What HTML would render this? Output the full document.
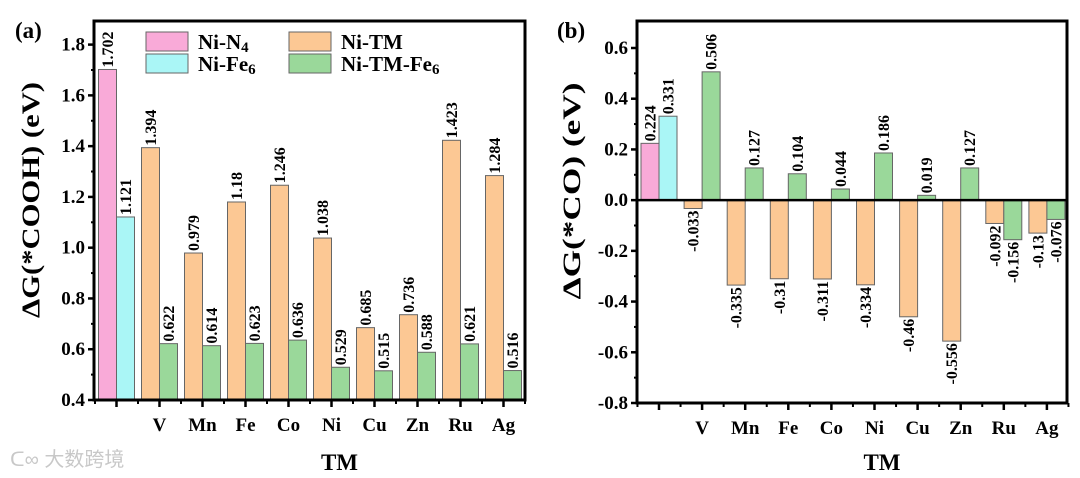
<!DOCTYPE html>
<html><head><meta charset="utf-8"><style>
html,body{margin:0;padding:0;background:#fff;}
svg{display:block;font-family:"Liberation Serif",serif;font-weight:bold;}
</style></head><body>
<svg id="chart" width="1080" height="478" viewBox="0 0 1080 478"></svg>
<script>
const categories = ["", "V", "Mn", "Fe", "Co", "Ni", "Cu", "Zn", "Ru", "Ag"];
const cooh_NiTM = [null, 1.394, 0.979, 1.18, 1.246, 1.038, 0.685, 0.736, 1.423, 1.284];
const cooh_NiTMFe6 = [null, 0.622, 0.614, 0.623, 0.636, 0.529, 0.515, 0.588, 0.621, 0.516];
const cooh_NiN4 = [1.702];
const cooh_NiFe6 = [1.121];
const co_NiTM = [null, -0.033, -0.335, -0.31, -0.311, -0.334, -0.46, -0.556, -0.092, -0.13];
const co_NiTMFe6 = [null, 0.506, 0.127, 0.104, 0.044, 0.186, 0.019, 0.127, -0.156, -0.076];
const co_NiN4 = [0.224];
const co_NiFe6 = [0.331];
const ticksA = [0.4, 0.6, 0.8, 1.0, 1.2, 1.4, 1.6, 1.8];
const ticksB = [-0.8, -0.6, -0.4, -0.2, 0.0, 0.2, 0.4, 0.6];

const NS = "http://www.w3.org/2000/svg";
const svg = document.getElementById("chart");
const COL = {pink:"#f9aad8", cyan:"#aaf6f6", orange:"#fcc894", green:"#9ad89a"};
function mk(tag, attrs, parent){ const e=document.createElementNS(NS,tag); for(const k in attrs) e.setAttribute(k,attrs[k]); (parent||svg).appendChild(e); return e; }
function fmt(v){ return String(v); }

function panel(cfg){
  const g = mk("g", {});
  
  
  const y = v => cfg.y0 + (v - cfg.vmin) / (cfg.vmax - cfg.vmin) * (cfg.y1 - cfg.y0);
  const x = i => cfg.xFirst + i * cfg.step;
  const bw = 18;
  function bar(i, off, v, color, nm){
    const base = cfg.base, yb = y(base), yv = y(v);
    const r = mk("rect", {x: x(i)+off, y: Math.min(yb,yv), width: bw, height: Math.abs(yb-yv), fill: color, stroke:"#666", "stroke-width":1}, g);
    
    
    const cx = x(i)+off+bw/2+5.5;
    let t;
    if (v >= base) {
      t = mk("text", {x:0, y:0, transform:`translate(${cx},${yv-2}) rotate(-90)`, "font-size":16, "text-anchor":"start"}, g);
    } else {
      t = mk("text", {x:0, y:0, transform:`translate(${cx},${yv+2}) rotate(-90)`, "font-size":16, "text-anchor":"end"}, g);
    }
    t.textContent = fmt(v);
    
    
  }
  bar(0, -bw, cfg.n4[0], COL.pink, "bar-ni-n4");
  bar(0, 0, cfg.fe6[0], COL.cyan, "bar-ni-fe6");
  for (let i=1;i<categories.length;i++){
    bar(i, -bw, cfg.tm[i], COL.orange, "bar-ni-tm-"+categories[i].toLowerCase());
    bar(i, 0, cfg.tmfe[i], COL.green, "bar-ni-tm-fe6-"+categories[i].toLowerCase());
  }
  if (cfg.base !== cfg.vmin) {
    const zl = mk("line", {x1:cfg.xl, x2:cfg.xr, y1:y(0), y2:y(0), stroke:"#000", "stroke-width":2.5}, g);
     
  }
  const box = mk("rect", {x:cfg.xl, y:cfg.top, width:cfg.xr-cfg.xl, height:cfg.y0-cfg.top, fill:"none", stroke:"#000", "stroke-width":3}, g);
   
  cfg.ticks.forEach((tv,k)=>{
    const yy=y(tv);
    mk("line",{x1:cfg.xl-6,x2:cfg.xl,y1:yy,y2:yy,stroke:"#000","stroke-width":2.5},g);
    if (k<cfg.ticks.length-1) { const ym=y(tv+0.1); mk("line",{x1:cfg.xl-3,x2:cfg.xl,y1:ym,y2:ym,stroke:"#000","stroke-width":2},g); }
    const t=mk("text",{x:cfg.xl-9,y:yy+6,"font-size":19,"text-anchor":"end"},g);
    t.textContent = tv.toFixed(1);
     
  });
  for (let i=0;i<categories.length;i++){
    const xx=x(i);
    mk("line",{x1:xx,x2:xx,y1:cfg.y0,y2:cfg.y0+7,stroke:"#000","stroke-width":2.5},g);
    mk("line",{x1:xx+cfg.step/2,x2:xx+cfg.step/2,y1:cfg.y0,y2:cfg.y0+4,stroke:"#000","stroke-width":2},g);
    if (categories[i]) {
      const t=mk("text",{x:xx,y:cfg.y0+31,"font-size":19,"text-anchor":"middle"},g);
      t.textContent=categories[i];
       
    }
  }
  mk("line",{x1:x(0)-cfg.step/2,x2:x(0)-cfg.step/2,y1:cfg.y0,y2:cfg.y0+4,stroke:"#000","stroke-width":2},g);
  const xt=mk("text",{x:(cfg.xl+cfg.xr)/2+30,y:470,"font-size":23,"text-anchor":"middle"},g);
  xt.textContent="TM";  
  const yt=mk("text",{x:0,y:0,transform:`translate(${cfg.ytx},${cfg.yty}) rotate(-90)`,"font-size":25,"text-anchor":"middle",textLength:cfg.ylen,lengthAdjust:"spacingAndGlyphs"},g);
  yt.textContent=cfg.ytitle;  
  const pl=mk("text",{x:cfg.plx,y:38,"font-size":23},g);
  pl.textContent=cfg.label;  
}

panel({name:"panel-a-cooh", y0:400, y1:44.6, vmin:0.4, vmax:1.8, base:0.4, top:21, xl:94, xr:525, xFirst:116.5, step:43,
  ticks:ticksA, tm:cooh_NiTM, tmfe:cooh_NiTMFe6, n4:cooh_NiN4, fe6:cooh_NiFe6,
  ytitle:"\u0394G(*COOH) (eV)", ytx:39, yty:200, ylen:236, plx:15, label:"(a)"});
panel({name:"panel-b-co", y0:403, y1:48, vmin:-0.8, vmax:0.6, base:0, top:21, xl:637, xr:1067, xFirst:659, step:43.1,
  ticks:ticksB, tm:co_NiTM, tmfe:co_NiTMFe6, n4:co_NiN4, fe6:co_NiFe6,
  ytitle:"\u0394G(*CO) (eV)", ytx:580, yty:191, ylen:217, plx:557, label:"(b)"});

// legend
const leg = mk("g",{});
 
[["Ni-N","4",COL.pink,146,32],["Ni-Fe","6",COL.cyan,146,54],["Ni-TM","",COL.orange,289,32],["Ni-TM-Fe","6",COL.green,289,54]].forEach(it=>{
  const r=mk("rect",{x:it[3],y:it[4],width:42,height:19,fill:it[2],stroke:"#666","stroke-width":1},leg);
   
  const t=mk("text",{x:it[3]+52,y:it[4]+17,"font-size":21},leg);
   
  t.appendChild(document.createTextNode(it[0]));
  if(it[1]){ const s=mk("tspan",{"font-size":15,dy:3},t); s.textContent=it[1]; }
});
// watermark
const wm=mk("text",{x:10,y:466,"font-size":20,fill:"#c8c8c8","font-family":"Liberation Sans, Noto Sans CJK SC, sans-serif","font-weight":"normal"});
wm.textContent="ᑕ∞ 大数跨境";
 
</script>
</body></html>
